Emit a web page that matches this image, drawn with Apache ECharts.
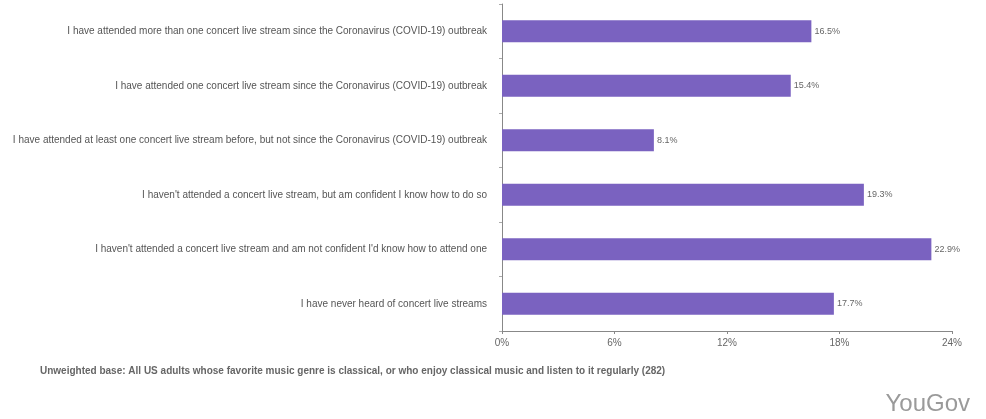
<!DOCTYPE html>
<html>
<head>
<meta charset="utf-8">
<script src="https://cdn.jsdelivr.net/npm/echarts@6/dist/echarts.min.js"></script>
<style>html,body{margin:0;padding:0;background:#fff}#c{width:986px;height:419px}</style>
</head>
<body>
<div id="c"></div>
<script>
const categories = [
  "I have attended more than one concert live stream since the Coronavirus (COVID-19) outbreak",
  "I have attended one concert live stream since the Coronavirus (COVID-19) outbreak",
  "I have attended at least one concert live stream before, but not since the Coronavirus (COVID-19) outbreak",
  "I haven't attended a concert live stream, but am confident I know how to do so",
  "I haven't attended a concert live stream and am not confident I'd know how to attend one",
  "I have never heard of concert live streams"
];
const values = [16.5, 15.4, 8.1, 19.3, 22.9, 17.7];
const xTicks = [0, 6, 12, 18, 24];
const footnote = "Unweighted base: All US adults whose favorite music genre is classical, or who enjoy classical music and listen to it regularly (282)";
const brand = "YouGov";

const chart = echarts.init(document.getElementById('c'), null, {renderer: 'canvas'});
chart.setOption({
  animation: false,
  backgroundColor: '#fff',
  textStyle: {fontFamily: 'Liberation Sans, Arial, sans-serif'},
  grid: {left: 502, right: 34, top: 4, bottom: 88, containLabel: false},
  xAxis: {
    type: 'value',
    min: xTicks[0], max: xTicks[xTicks.length - 1], interval: 6,
    axisLine: {show: true, lineStyle: {color: '#888', width: 1}},
    axisTick: {show: true, length: 3, lineStyle: {color: '#888'}},
    splitLine: {show: false},
    axisLabel: {formatter: '{value}%', color: '#666', fontSize: 10, margin: 7}
  },
  yAxis: {
    type: 'category',
    data: categories,
    inverse: true,
    axisLine: {show: true, lineStyle: {color: '#888', width: 1}},
    axisTick: {show: true, length: 3, lineStyle: {color: '#aaa'}},
    axisLabel: {color: '#555', fontSize: 10, margin: 15}
  },
  series: [{
    type: 'bar',
    data: values,
    barWidth: 22,
    itemStyle: {color: '#7a62c0'},
    label: {show: true, position: 'right', distance: 3, color: '#666', fontSize: 9, formatter: '{c}%'}
  }],
  graphic: [
    {type: 'text', left: 40, top: 366, style: {text: footnote, fill: '#666', font: 'bold 10px "Liberation Sans", Arial, sans-serif'}},
    {type: 'text', right: 16, top: 392, style: {text: brand, fill: '#9a9a9a', font: '24px "Liberation Sans", Arial, sans-serif'}}
  ]
});
</script>
</body>
</html>
